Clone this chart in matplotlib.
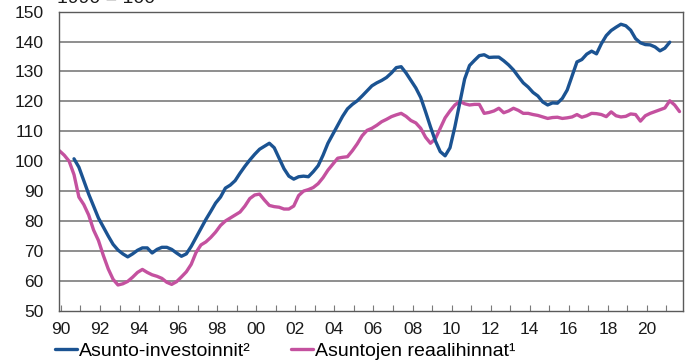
"""
Asunto-investoinnit ja asuntojen reaalihinnat, 1990 = 100
"""
import matplotlib
matplotlib.use('Agg')
import matplotlib.pyplot as plt
import numpy as np

plt.rcParams['font.family'] = ['Liberation Sans', 'DejaVu Sans']

# neljännesvuosiarvot (luettu kuvasta)
reaalihinnat = [
    103.5, 102.0, 100.0, 95.5,
    88.0, 85.5, 82.0, 77.0,
    73.5, 68.5, 64.0, 60.5,
    58.6, 59.0, 59.8, 61.2,
    62.8, 63.8, 62.8, 62.0,
    61.5, 60.8, 59.5, 58.8,
    59.7, 61.3, 63.0, 65.5,
    69.5, 72.0, 73.0, 74.5,
    76.3, 78.5, 80.0, 81.0,
    82.0, 83.0, 85.0, 87.5,
    88.7, 89.0, 87.0, 85.2,
    84.8, 84.6, 84.0, 84.0,
    85.0, 88.5, 90.0, 90.5,
    91.2, 92.5, 94.5, 97.0,
    99.0, 101.0, 101.3, 101.5,
    103.5, 105.8, 108.5, 110.3,
    111.0, 112.0, 113.2, 114.0,
    114.9, 115.5, 116.0, 115.0,
    113.6, 112.8, 111.0, 108.0,
    106.0, 107.5, 111.0, 114.5,
    116.8, 118.8, 120.0, 119.2,
    118.8, 119.0, 119.0, 116.0,
    116.3, 116.8, 117.7, 116.2,
    116.8, 117.7, 117.0, 116.0,
    116.0, 115.6, 115.3, 114.8,
    114.3, 114.6, 114.7, 114.3,
    114.5, 114.8, 115.6, 114.7,
    115.2, 116.0, 115.9, 115.6,
    114.9, 116.5, 115.2, 114.8,
    115.0, 115.8, 115.6, 113.4,
    115.2, 116.0, 116.6, 117.2,
    117.8, 120.2, 118.8, 116.6,
]

investoinnit = [
    100.8,
    98.0, 93.5, 89.0, 85.0,
    81.0, 78.0, 75.0, 72.2,
    70.3, 69.0, 68.0, 69.0,
    70.2, 71.0, 71.0, 69.3,
    70.5, 71.2, 71.2, 70.5,
    69.3, 68.2, 69.0, 71.5,
    74.5, 77.5, 80.5, 83.2,
    86.0, 88.0, 91.0, 92.0,
    93.5, 96.0, 98.3, 100.4,
    102.3, 104.0, 105.0, 106.0,
    104.5, 101.0, 97.5, 95.0,
    94.0, 94.8, 95.0, 94.8,
    96.5, 98.5, 102.0, 106.0,
    109.0, 112.0, 115.0, 117.5,
    119.0, 120.2, 121.8, 123.5,
    125.2, 126.2, 127.0, 128.0,
    129.5, 131.3, 131.6, 129.5,
    127.0, 124.5, 121.3, 116.5,
    111.5, 106.8, 103.2, 101.8,
    104.5, 111.5, 119.5, 127.5,
    132.0, 133.7, 135.3, 135.6,
    134.7, 134.8, 134.8, 133.6,
    132.2, 130.5, 128.3, 126.2,
    124.8, 123.0, 121.8, 119.8,
    118.8, 119.5, 119.4, 121.0,
    123.8, 128.5, 133.2, 134.0,
    135.8, 136.8, 135.9, 139.3,
    142.0, 143.7, 144.8, 145.8,
    145.3, 143.8, 141.0, 139.6,
    139.0, 138.9, 138.2, 136.9,
    137.8, 139.8,
]

x_labels = ['90', '92', '94', '96', '98', '00', '02', '04', '06', '08',
            '10', '12', '14', '16', '18', '20']

# aika-akseli: neljännekset 1990Q1 alkaen
t_hinta = 1989.92 + 0.25 * np.arange(len(reaalihinnat))
t_inv = 1989.92 + 0.25 * (3 + np.arange(len(investoinnit)))

fig = plt.figure(figsize=(6.93, 3.63), dpi=100)
ax = fig.add_axes([0.0851, 0.1441, 0.9005, 0.8237])

for y in range(60, 150, 10):
    ax.axhline(y, color='#707070', lw=1.1, zorder=1)

l1, = ax.plot(t_inv, investoinnit, color='#1b5392', lw=2.4, zorder=3,
              solid_capstyle='round', solid_joinstyle='round')
l2, = ax.plot(t_hinta, reaalihinnat, color='#c4519f', lw=2.4, zorder=2,
              solid_capstyle='round', solid_joinstyle='round')

ax.set_xlim(1989.9, 2021.85)
ax.set_ylim(50, 150)
ax.set_yticks(range(50, 151, 10))
ax.tick_params(axis='y', length=0, pad=11, labelsize=12.5, colors='#1a1a1a')

ax.set_xticks(np.arange(1990, 2021, 2))
ax.set_xticklabels(x_labels)
ax.set_xticks(np.arange(1991, 2022, 2), minor=True)
ax.tick_params(axis='x', which='both', direction='in', length=4, width=0.8,
               color='#7a7a7a', pad=8, labelsize=12.5, labelcolor='#1a1a1a')

for s in ax.spines.values():
    s.set_color('#5a5a5a')
    s.set_linewidth(1.0)

fig.text(0.082, 0.992, '1990 = 100', fontsize=14, va='baseline', ha='left',
         color='#1a1a1a')

fig.legend([l1, l2], ['Asunto-investoinnit²', 'Asuntojen reaalihinnat¹'],
           loc='center left', bbox_to_anchor=(0.080, 0.032), ncol=2,
           frameon=False, fontsize=14, handlelength=1.1, handletextpad=0.1,
           columnspacing=2.1, borderaxespad=0, borderpad=0)

fig.savefig('out.png', dpi=100)
plt.close(fig)
